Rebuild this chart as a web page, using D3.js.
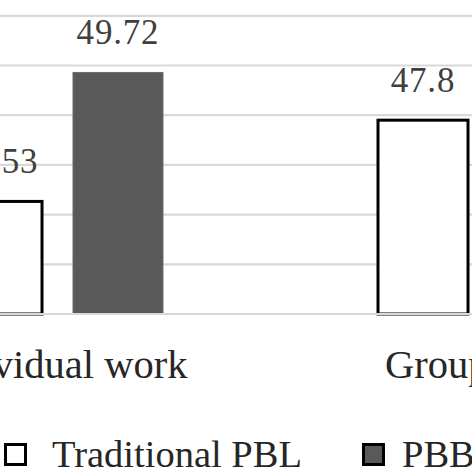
<!DOCTYPE html>
<html>
<head>
<meta charset="utf-8">
<script src="https://cdn.jsdelivr.net/npm/d3@7"></script>
<style>
html,body{margin:0;padding:0;background:#fff;}
svg{display:block;}
</style>
</head>
<body>
<script>
const categories = ["Individual work", "Group work"];
const series = ["Traditional PBL", "PBBL"];
const traditionalValues = [44.53, 47.8];
const pbblValues = [49.72, 51.2];
const yTicks = [40, 42, 44, 46, 48, 50, 52, 54];

const W = 472, H = 472;
const svg = d3.select("body").append("svg").attr("width", W).attr("height", H);

const x = d3.scaleBand().domain(categories).range([-155.5, 696.5]).padding(0);
const xs = d3.scaleBand().domain(series).range([-105.5, 105.5]).paddingInner(0.256).paddingOuter(0);
const y = d3.scaleLinear().domain([40, 52]).range([314, 15.8]);

// gridlines
svg.append("g").selectAll("line").data(yTicks).join("line")
  .attr("x1", 0).attr("x2", W)
  .attr("y1", d => y(d)).attr("y2", d => y(d))
  .attr("stroke", "#d9d9d9").attr("stroke-width", 2.2);

const data = [];
categories.forEach((c, i) => {
  data.push({cat: c, s: series[0], v: traditionalValues[i]});
  data.push({cat: c, s: series[1], v: pbblValues[i]});
});

const fills = {"Traditional PBL": "#ffffff", "PBBL": "#595959"};
const strokes = {"Traditional PBL": "#000000", "PBBL": "#6e6e6e"};
const sw = {"Traditional PBL": 3, "PBBL": 1};

const cx = d => x(d.cat) + x.bandwidth() / 2 + xs(d.s);

svg.append("g").selectAll("rect").data(data).join("rect")
  .attr("x", d => cx(d))
  .attr("y", d => y(d.v))
  .attr("width", xs.bandwidth())
  .attr("height", d => y(40) - y(d.v))
  .attr("fill", d => fills[d.s])
  .attr("stroke", d => strokes[d.s])
  .attr("stroke-width", d => sw[d.s]);

// redraw baseline over bar bottoms
svg.append("line").attr("x1", 0).attr("x2", W).attr("y1", y(40)).attr("y2", y(40))
  .attr("stroke", "#d9d9d9").attr("stroke-width", 2.2);

// data labels
svg.append("g").selectAll("text").data(data).join("text")
  .attr("x", d => cx(d) + xs.bandwidth() / 2)
  .attr("y", d => y(d.v) - 28)
  .attr("text-anchor", "middle")
  .attr("font-family", "'Liberation Serif', 'Times New Roman', serif")
  .attr("font-size", 35)
  .attr("letter-spacing", 0.8)
  .attr("fill", "#404040")
  .text(d => String(d.v));

// category labels
svg.append("g").selectAll("text").data(categories).join("text")
  .attr("x", d => x(d) + x.bandwidth() / 2)
  .attr("y", 378)
  .attr("text-anchor", "middle")
  .attr("font-family", "'Liberation Serif', 'Times New Roman', serif")
  .attr("font-size", 40.5)
  .attr("fill", "#262626")
  .text(d => d);

// legend
const legendX = [4, 362];
const legendTextX = [52, 402];
const leg = svg.append("g").selectAll("g").data(series).join("g")
  .attr("transform", (d, i) => `translate(${legendX[i]},443)`);
leg.append("rect")
  .attr("x", 1.5).attr("y", 1.5).attr("width", 20).attr("height", 20)
  .attr("fill", d => fills[d]).attr("stroke", "#000").attr("stroke-width", 3);
leg.append("text")
  .attr("x", (d, i) => legendTextX[i] - legendX[i]).attr("y", 24)
  .attr("font-family", "'Liberation Serif', 'Times New Roman', serif")
  .attr("font-size", 38.5)
  .attr("fill", "#262626")
  .text(d => d);
</script>
</body>
</html>
